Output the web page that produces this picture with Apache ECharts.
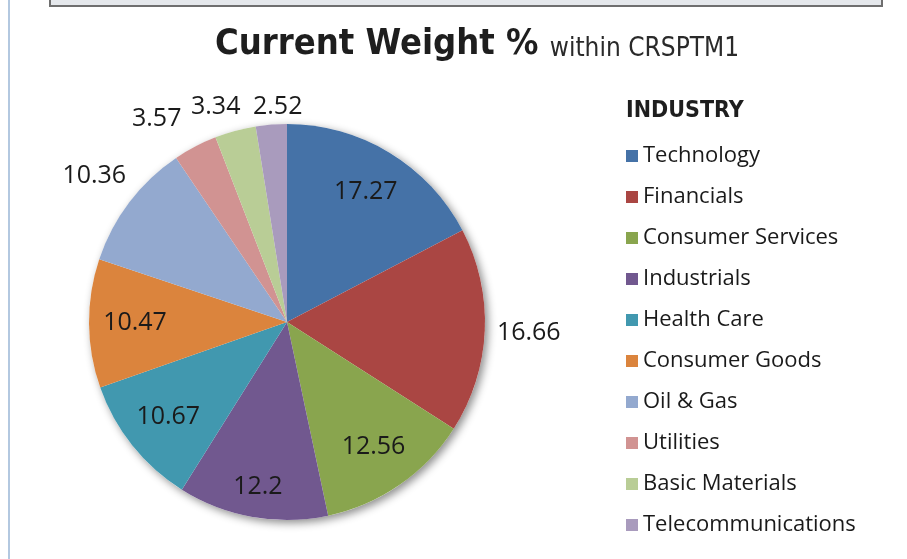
<!DOCTYPE html>
<html>
<head>
<meta charset="utf-8">
<script src="https://cdn.jsdelivr.net/npm/echarts@6/dist/echarts.min.js"></script>
<style>
  html, body { margin: 0; padding: 0; background: #fff; }
  #wrap { position: relative; width: 907px; height: 559px; overflow: hidden; }
  #chart { position: absolute; left: 0; top: 0; width: 907px; height: 559px; }
  .topbox { position: absolute; left: 49px; top: -4px; width: 830px; height: 9px;
            background: #e5e8ec; border: 2px solid #6f6f6f; border-top: none; }
  .leftline { position: absolute; left: 8px; top: 0; width: 2px; height: 559px; background: #b3c8e0; }
</style>
</head>
<body>
<div id="wrap">
  <div class="topbox"></div>
  <div class="leftline"></div>
  <div id="chart"></div>
</div>
<script>
  // industry weights within CRSPTM1
  var industries = ['Technology', 'Financials', 'Consumer Services', 'Industrials', 'Health Care',
    'Consumer Goods', 'Oil & Gas', 'Utilities', 'Basic Materials', 'Telecommunications']
  var weights = [17.27, 16.66, 12.56, 12.2, 10.67, 10.47, 10.36, 3.57, 3.34, 2.52]
  var colors = ['#4572a7', '#aa4643', '#89a54e', '#71588f', '#4198af',
    '#db843d', '#93a9cf', '#d19392', '#b9cd96', '#a99bbd']
  // where each value label sits (Excel "best fit")
  var labelRing = ['inside', 'outer', 'inside', 'deep', 'inside',
    'inside', 'outer', 'top', 'top', 'top']
  // small slices at the top: [edge distance, leader length] so they line up like Excel's
  var topLabelPlace = { 7: [132, 31], 8: [191, 25], 9: [253, 18] }

  var chart = echarts.init(document.getElementById('chart'))

  var center = [287, 322]
  // label rings: the label is centred halfway between inner and outer radius
  var rings = {
    inside: [100, 198],
    deep: [130, 198],
    outer: [198, 280]
  }
  var labelFont = {
    fontFamily: 'Open Sans',
    fontSize: 25,
    color: '#1a1a1a'
  }

  var pieData = industries.map(function(name, i) {
    return { name: name, value: weights[i], itemStyle: { color: colors[i] } }
  })

  function ringData(key, extra) {
    return industries.map(function(name, i) {
      return {
        name: name,
        value: weights[i],
        label: Object.assign({
          show: labelRing[i] === key,
          overflow: 'none',
          formatter: '{c}'
        }, labelFont, extra)
      }
    })
  }

  var topData = ringData('top', { position: 'outside', alignTo: 'edge', width: 60 })
  topData.forEach(function(d, i) {
    var p = topLabelPlace[i]
    if (!p) return
    d.label.edgeDistance = p[0]
    d.labelLine = { show: false, length: p[1], length2: 0 }
  })

  var series = [
    // soft drop shadow under the pie
    {
      type: 'pie',
      silent: true,
      center: center,
      radius: [0, 198],
      z: 1,
      label: { show: false },
      labelLine: { show: false },
      data: [{ value: 1, name: '', itemStyle: {
        color: '#fff',
        shadowBlur: 8,
        shadowOffsetX: 3,
        shadowOffsetY: 3,
        shadowColor: 'rgba(0,0,0,0.45)'
      } }]
    },
    {
      type: 'pie',
      name: 'Current Weight %',
      center: center,
      radius: [0, 198],
      startAngle: 90,
      z: 2,
      label: { show: false },
      labelLine: { show: false },
      emphasis: { scale: false },
      data: pieData
    },
    // the thin slices at the top: labels outside
    {
      type: 'pie',
      silent: true,
      center: center,
      radius: [0, 198],
      startAngle: 90,
      z: 3,
      avoidLabelOverlap: false,
      itemStyle: { color: 'transparent' },
      labelLine: { show: false, length: 20, length2: 0 },
      emphasis: { disabled: true },
      data: topData
    }
  ]

  Object.keys(rings).forEach(function(key) {
    series.push({
      type: 'pie',
      silent: true,
      center: center,
      radius: rings[key],
      startAngle: 90,
      z: 3,
      avoidLabelOverlap: false,
      itemStyle: { color: 'transparent' },
      labelLine: { show: false },
      emphasis: { disabled: true },
      data: ringData(key, { position: 'inside' })
    })
  })

  chart.setOption({
    animation: false,
    title: [
      {
        text: 'Current Weight % {sub|within CRSPTM1}',
        left: 210,
        top: 22,
        textStyle: {
          fontFamily: 'DejaVu Sans Condensed',
          fontWeight: 'bold',
          fontSize: 36,
          color: '#1e1e1e',
          rich: {
            sub: {
              fontFamily: 'DejaVu Sans Condensed',
              fontWeight: 'normal',
              fontSize: 26,
              color: '#2a2a2a',
              padding: [8, 0, 0, 0]
            }
          }
        }
      },
      {
        text: 'INDUSTRY',
        left: 621,
        top: 95,
        textStyle: {
          fontFamily: 'DejaVu Sans Condensed',
          fontWeight: 'bold',
          fontSize: 23,
          color: '#1e1e1e'
        }
      }
    ],
    legend: {
      orient: 'vertical',
      left: 621,
      top: 140,
      itemWidth: 12,
      itemHeight: 12,
      itemGap: 19,
      icon: 'rect',
      selectedMode: false,
      textStyle: {
        fontFamily: 'Open Sans',
        fontSize: 22,
        color: '#1a1a1a'
      },
      data: industries.map(function(name, i) {
        return { name: name, itemStyle: { color: colors[i] } }
      })
    },
    series: series
  })
</script>
</body>
</html>
